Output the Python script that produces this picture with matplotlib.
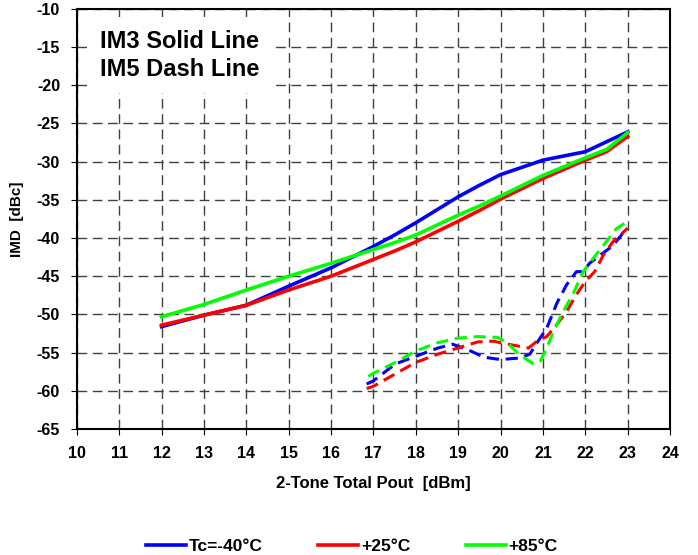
import matplotlib.pyplot as plt

plt.rcParams['font.family'] = ['Liberation Sans', 'DejaVu Sans']
plt.rcParams['font.weight'] = 'bold'
plt.rcParams['axes.unicode_minus'] = False

# IM3 (solid) readings, Pout in dBm vs IMD in dBc
im3_x = [12, 13, 14, 15, 16, 17, 17.5, 18, 19, 19.5, 20, 21, 22, 22.5, 23]
im3_m40 = [-51.6, -50.1, -48.8, -46.3, -43.9, -41.1, -39.6, -38.0, -34.6, -33.1, -31.7, -29.8, -28.7, -27.4, -26.1]
im3_p25 = [-51.4, -50.1, -48.8, -46.8, -45.0, -42.8, -41.7, -40.5, -37.8, -36.4, -34.9, -32.2, -29.8, -28.7, -26.7]
im3_p85 = [-50.3, -48.7, -46.8, -45.0, -43.3, -41.5, -40.6, -39.6, -37.0, -35.8, -34.5, -31.8, -29.5, -28.4, -26.2]

# IM5 (dashed) readings
im5_x_m40 = [16.84, 17.0, 17.51, 17.99, 18.52, 18.87, 19.3, 19.61, 19.99, 20.47, 20.69, 20.86,
             21.09, 21.33, 21.56, 21.79, 21.95, 22.1, 22.65, 22.88, 23.0]
im5_m40 = [-59.1, -58.7, -56.5, -55.5, -54.4, -53.9, -54.8, -55.6, -55.9, -55.7, -55.2, -53.7,
           -51.8, -48.5, -46.1, -44.4, -44.4, -43.3, -41.0, -39.4, -39.0]
im5_x_p25 = [16.84, 17.0, 17.51, 17.99, 18.52, 18.99, 19.46, 19.84, 19.99, 20.47, 20.66, 20.86,
             21.09, 21.33, 21.56, 21.79, 22.0, 22.22, 22.42, 22.65, 23.0]
im5_p25 = [-59.7, -59.4, -57.8, -56.3, -55.2, -54.4, -53.6, -53.5, -53.7, -54.2, -54.4, -53.5,
           -52.9, -51.3, -49.6, -47.4, -45.7, -44.4, -42.3, -40.5, -38.7]
im5_x_p85 = [16.88, 17.0, 17.51, 17.99, 18.52, 18.99, 19.46, 19.92, 20.16, 20.43, 20.78, 20.94,
             21.09, 21.25, 21.48, 21.72, 21.95, 22.18, 22.42, 22.73, 23.0]
im5_p85 = [-58.1, -57.7, -56.3, -54.8, -53.7, -53.1, -52.9, -53.0, -53.7, -55.2, -56.5, -56.1,
           -54.4, -52.2, -49.6, -47.2, -44.4, -42.7, -41.0, -38.8, -37.8]

labels = ['Tc=-40°C', '+25°C', '+85°C']
colors = ['#0000ff', '#ff0000', '#00ff00']

fig = plt.figure(figsize=(6.98, 5.55), dpi=100)
ax = fig.add_axes([0.110, 0.227, 0.850, 0.757])

ax.plot(im3_x, im3_m40, color=colors[0], lw=2.6, label=labels[0], zorder=3)
ax.plot(im3_x, im3_p25, color=colors[1], lw=2.6, label=labels[1], zorder=3)
ax.plot(im3_x, im3_p85, color=colors[2], lw=2.6, label=labels[2], zorder=3)

dash = (0, (4, 2.2))
ax.plot(im5_x_m40, im5_m40, color=colors[0], lw=2.2, linestyle=dash, zorder=3)
ax.plot(im5_x_p25, im5_p25, color=colors[1], lw=2.2, linestyle=dash, zorder=3)
ax.plot(im5_x_p85, im5_p85, color=colors[2], lw=2.2, linestyle=dash, zorder=3)

ax.set_xlim(10, 24)
ax.set_ylim(-65, -10)
ax.set_xticks(range(10, 25))
ax.set_yticks(range(-65, -9, 5))
ax.grid(True, color='#404040', lw=1.0, linestyle=(0, (7, 4)), zorder=1)
ax.tick_params(labelsize=11.5, length=4, direction='out', pad=8)
for lab in ax.get_xticklabels() + ax.get_yticklabels():
    lab.set_fontweight('bold')
for s in ax.spines.values():
    s.set_linewidth(1.5)

ax.set_xlabel('2-Tone Total Pout  [dBm]', fontsize=12, fontweight='bold', labelpad=11)
ax.set_ylabel('IMD  [dBc]', fontsize=11, fontweight='bold', labelpad=9)

ax.text(0.039, 0.890, 'IM3 Solid Line\nIM5 Dash Line', transform=ax.transAxes,
        fontsize=17, fontweight='bold', va='center', ha='left', linespacing=1.27,
        bbox=dict(facecolor='white', edgecolor='none', pad=9), zorder=4)

fig.legend(loc='center', bbox_to_anchor=(0.504, 0.016), ncol=3, frameon=False,
           handlelength=2.3, handletextpad=0.15, columnspacing=3.2,
           prop={'weight': 'bold', 'size': 12.5})

fig.savefig('out.png', dpi=100)
